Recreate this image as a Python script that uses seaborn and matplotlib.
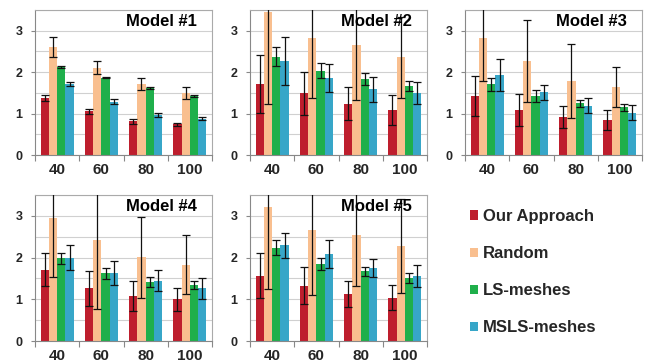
import numpy as np
import pandas as pd
import matplotlib
matplotlib.use("Agg")
import matplotlib.pyplot as plt
from matplotlib.patches import Patch
import seaborn as sns

sizes = ["40", "60", "80", "100"]
methods = ["Our Approach", "Random", "LS-meshes", "MSLS-meshes"]
colors = ["#BE1E2D", "#F9BF8F", "#1FAF4B", "#37A6C8"]
titles = ["Model #1", "Model #2", "Model #3", "Model #4", "Model #5"]

# mean values per model: [method][size]
m1_vals = [[1.38, 1.06, 0.82, 0.74], [2.61, 2.11, 1.72, 1.50], [2.13, 1.87, 1.61, 1.42], [1.71, 1.29, 0.97, 0.88]]
m1_errs = [[0.08, 0.06, 0.06, 0.03], [0.25, 0.15, 0.15, 0.15], [0.02, 0.02, 0.02, 0.02], [0.05, 0.05, 0.05, 0.03]]
m2_vals = [[1.72, 1.49, 1.24, 1.09], [3.44, 2.82, 2.65, 2.36], [2.37, 2.03, 1.83, 1.67], [2.28, 1.86, 1.59, 1.50]]
m2_errs = [[0.70, 0.52, 0.39, 0.37], [2.20, 1.45, 1.32, 0.98], [0.23, 0.18, 0.14, 0.12], [0.58, 0.33, 0.30, 0.27]]
m3_vals = [[1.42, 1.09, 0.92, 0.84], [2.82, 2.27, 1.79, 1.65], [1.71, 1.42, 1.25, 1.15], [1.93, 1.51, 1.19, 1.02]]
m3_errs = [[0.49, 0.39, 0.27, 0.24], [1.03, 0.98, 0.89, 0.48], [0.16, 0.14, 0.08, 0.08], [0.38, 0.19, 0.18, 0.18]]
m4_vals = [[1.71, 1.26, 1.09, 1.00], [2.94, 2.41, 2.01, 1.83], [1.98, 1.62, 1.42, 1.34], [2.00, 1.63, 1.45, 1.26]]
m4_errs = [[0.40, 0.42, 0.36, 0.27], [1.41, 1.65, 0.97, 0.70], [0.13, 0.13, 0.12, 0.10], [0.30, 0.28, 0.26, 0.26]]
m5_vals = [[1.57, 1.33, 1.13, 1.04], [3.21, 2.65, 2.53, 2.28], [2.24, 1.85, 1.67, 1.51], [2.29, 2.09, 1.75, 1.56]]
m5_errs = [[0.55, 0.45, 0.31, 0.30], [1.96, 1.55, 1.22, 1.13], [0.19, 0.15, 0.10, 0.11], [0.31, 0.34, 0.21, 0.27]]

all_vals = [m1_vals, m2_vals, m3_vals, m4_vals, m5_vals]
all_errs = [m1_errs, m2_errs, m3_errs, m4_errs, m5_errs]

sns.set_theme(style="white")
plt.rcParams["font.family"] = ["Liberation Sans", "DejaVu Sans"]
plt.rcParams["font.weight"] = "bold"

fig = plt.figure(figsize=(6.53, 3.62), dpi=100)
W, H = 653.0, 362.0
lefts = [35, 250, 465]
row_boxes = [(10, 155), (195, 341)]
positions = [(0, 0), (0, 1), (0, 2), (1, 0), (1, 1)]

for k, (r, c) in enumerate(positions):
    top, bot = row_boxes[r]
    ax = fig.add_axes([lefts[c] / W, 1 - bot / H, 177 / W, (bot - top) / H])
    vals, errs = all_vals[k], all_errs[k]
    df = pd.DataFrame({
        "size": [s for m in methods for s in sizes],
        "method": [m for m in methods for s in sizes],
        "value": [v for row in vals for v in row],
    })
    sns.barplot(data=df, x="size", y="value", hue="method", order=sizes,
                hue_order=methods, palette=colors, saturation=1, width=0.75,
                gap=0, errorbar=None, legend=False, ax=ax, linewidth=0)
    bar_conts = list(ax.containers)
    for mi, cont in enumerate(bar_conts):
        xs = [p.get_x() + p.get_width() / 2 for p in cont.patches]
        hs = [p.get_height() for p in cont.patches]
        ax.errorbar(xs, hs, yerr=errs[mi], fmt="none", ecolor="#111111",
                    elinewidth=0.9, capsize=2.6, capthick=0.9, zorder=5)
    ax.set_ylim(0, 3.5)
    ax.set_xlim(-0.5, 3.5)
    ax.set_xlabel("")
    ax.set_ylabel("")
    ax.set_yticks([0, 1, 2, 3])
    ax.set_yticks(np.arange(0, 3.6, 0.5), minor=True)
    ax.set_xticks([-0.5, 0.5, 1.5, 2.5, 3.5], minor=True)
    ax.grid(True, axis="y", which="both", color="#D0D0D0", linewidth=0.8)
    ax.set_axisbelow(True)
    ax.tick_params(axis="x", which="major", length=0, pad=6, labelsize=11)
    ax.tick_params(axis="x", which="minor", length=4, width=0.8, color="#888888", direction="out", bottom=True)
    ax.tick_params(axis="y", which="major", length=3, width=0.8, color="#888888", pad=6, labelsize=9, left=True)
    ax.tick_params(axis="y", which="minor", length=0)
    for lab in ax.get_xticklabels() + ax.get_yticklabels():
        lab.set_fontweight("bold")
    for side, sp in ax.spines.items():
        sp.set_color("#AAAAAA")
        sp.set_linewidth(0.8)
    ax.spines["bottom"].set_color("#888888")
    ax.spines["left"].set_color("#888888")
    ax.text(0.915, 0.92, titles[k], transform=ax.transAxes, ha="right", va="center",
            fontsize=12, fontweight="bold", color="black", zorder=10)

handles = [Patch(facecolor=c, edgecolor="none", label=m) for c, m in zip(colors, methods)]
fig.legend(handles=handles, loc="upper left", bbox_to_anchor=(470 / W, 1 - 209 / H),
           frameon=False, prop={"weight": "bold", "size": 12},
           handlelength=0.5, handleheight=0.5, handletextpad=0.3,
           labelspacing=1.33, borderpad=0, borderaxespad=0)

fig.savefig("out.png", dpi=100)
